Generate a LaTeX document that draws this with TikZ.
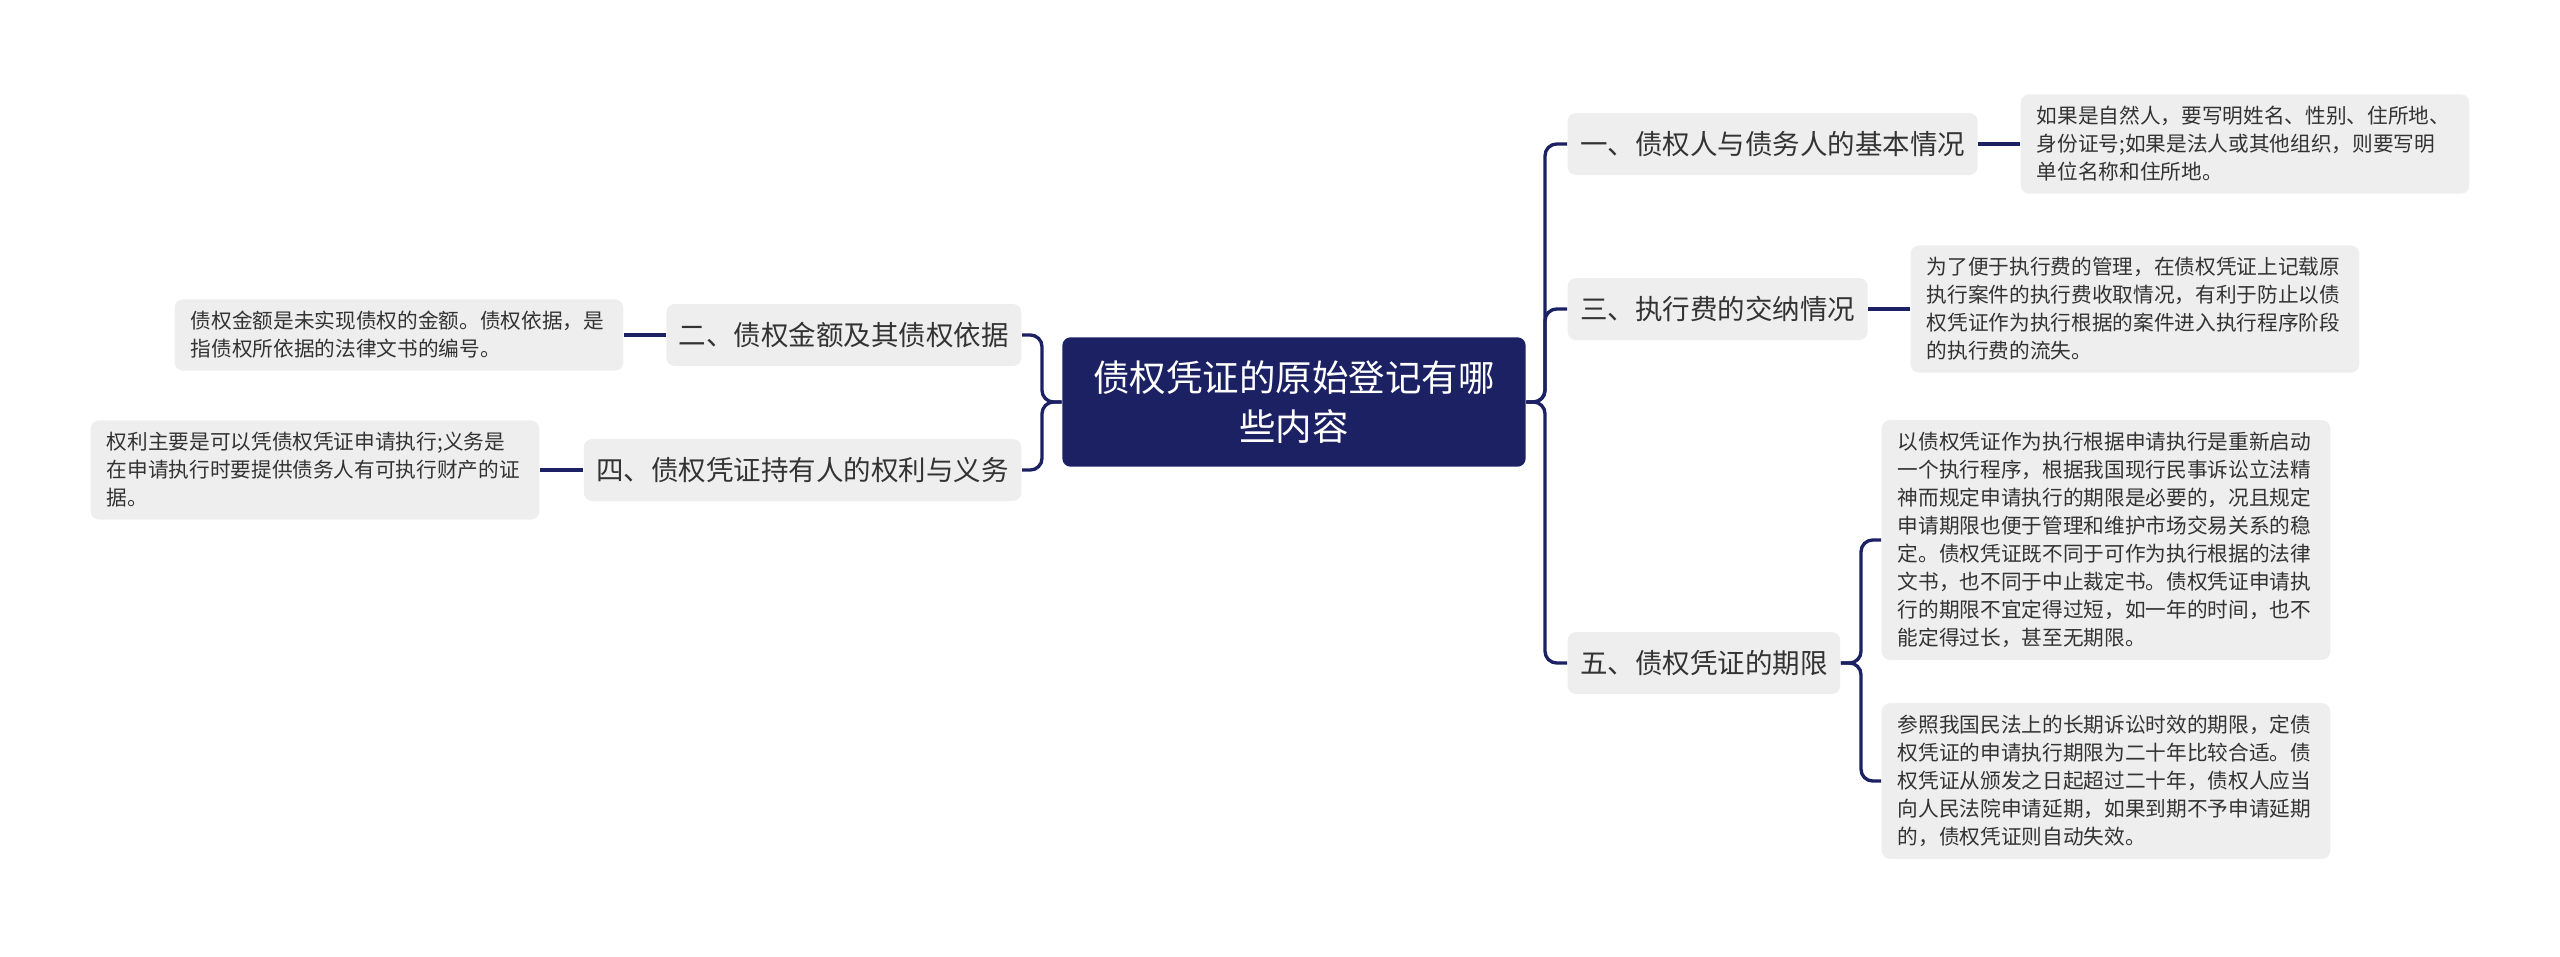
\documentclass[tikz,border=0pt]{standalone}
\usepackage{fontspec}
\setmainfont{Noto Sans CJK SC}
\usepackage{xcolor}
\usetikzlibrary{positioning}

\definecolor{navy}{HTML}{1B2163}
\definecolor{boxgray}{HTML}{EEEEEE}
\definecolor{ink}{HTML}{333333}

\begin{document}
\begin{tikzpicture}[
  x=0.3pt, y=-0.3pt,
  link/.style={draw=navy, line width=1pt, rounded corners=3.5pt},
  topic/.style={fill=navy, rounded corners=2.5pt, text=white,
                font=\fontsize{10.95}{14.7}\selectfont, text width=121pt,
                align=center, inner xsep=9pt, inner ysep=7pt},
  branch/.style={fill=boxgray, rounded corners=2.5pt, text=ink,
                 font=\fontsize{8.25}{10}\selectfont, minimum height=18.6pt,
                 inner xsep=3.75pt},
  leaf/.style={fill=boxgray, rounded corners=2.5pt, text=ink,
               font=\fontsize{6.2}{8.4}\selectfont, text width=125pt,
               align=left, inner xsep=4.8pt, inner ysep=3.6pt}
]
\useasboundingbox (0,0) rectangle (2560,957);

% ---- Central topic ----
\node[topic] (root) at (1294,402) {债权凭证的原始登记有哪\\些内容};

% ---- Right branches ----
\node[branch, anchor=west] (b1) at (1567,144) {一、债权人与债务人的基本情况};
\node[branch, anchor=west] (b3) at (1567,309) {三、执行费的交纳情况};
\node[branch, anchor=west] (b5) at (1567,663) {五、债权凭证的期限};

% ---- Left branches ----
\node[branch, anchor=east] (b2) at (1022,335) {二、债权金额及其债权依据};
\node[branch, anchor=east] (b4) at (1022,470) {四、债权凭证持有人的权利与义务};

% ---- Leaves ----
\node[leaf, anchor=west] (l1) at (2020,144)
  {如果是自然人，要写明姓名、性别、住所地、\\
   身份证号;如果是法人或其他组织，则要写明\\
   单位名称和住所地。};
\node[leaf, anchor=west] (l3) at (1910,309)
  {为了便于执行费的管理，在债权凭证上记载原\\
   执行案件的执行费收取情况，有利于防止以债\\
   权凭证作为执行根据的案件进入执行程序阶段\\
   的执行费的流失。};
\node[leaf, anchor=west] (l5a) at (1881,540)
  {以债权凭证作为执行根据申请执行是重新启动\\
   一个执行程序，根据我国现行民事诉讼立法精\\
   神而规定申请执行的期限是必要的，况且规定\\
   申请期限也便于管理和维护市场交易关系的稳\\
   定。债权凭证既不同于可作为执行根据的法律\\
   文书，也不同于中止裁定书。债权凭证申请执\\
   行的期限不宜定得过短，如一年的时间，也不\\
   能定得过长，甚至无期限。};
\node[leaf, anchor=west] (l5b) at (1881,781)
  {参照我国民法上的长期诉讼时效的期限，定债\\
   权凭证的申请执行期限为二十年比较合适。债\\
   权凭证从颁发之日起超过二十年，债权人应当\\
   向人民法院申请延期，如果到期不予申请延期\\
   的，债权凭证则自动失效。};
\node[leaf, anchor=east] (l2) at (624,335)
  {债权金额是未实现债权的金额。债权依据，是\\
   指债权所依据的法律文书的编号。};
\node[leaf, anchor=east] (l4) at (540,470)
  {权利主要是可以凭债权凭证申请执行;义务是\\
   在申请执行时要提供债务人有可执行财产的证\\
   据。};

% ---- Trunk points ----
\coordinate (rtrunk) at (1545,402);
\coordinate (ltrunk) at (1042,402);
\coordinate (ftrunk) at (1861,663);

% ---- Connectors ----
\foreach \b in {b1,b3,b5}
  \draw[link] (root.east) -- (rtrunk) |- (\b.west);
\foreach \b in {b2,b4}
  \draw[link] (root.west) -- (ltrunk) |- (\b.east);
\draw[link] (b1.east) -- (l1.west);
\draw[link] (b3.east) -- (l3.west);
\draw[link] (b2.west) -- (l2.east);
\draw[link] (b4.west) -- (l4.east);
\foreach \l in {l5a,l5b}
  \draw[link] (b5.east) -- (ftrunk) |- (\l.west);

\end{tikzpicture}
\end{document}
